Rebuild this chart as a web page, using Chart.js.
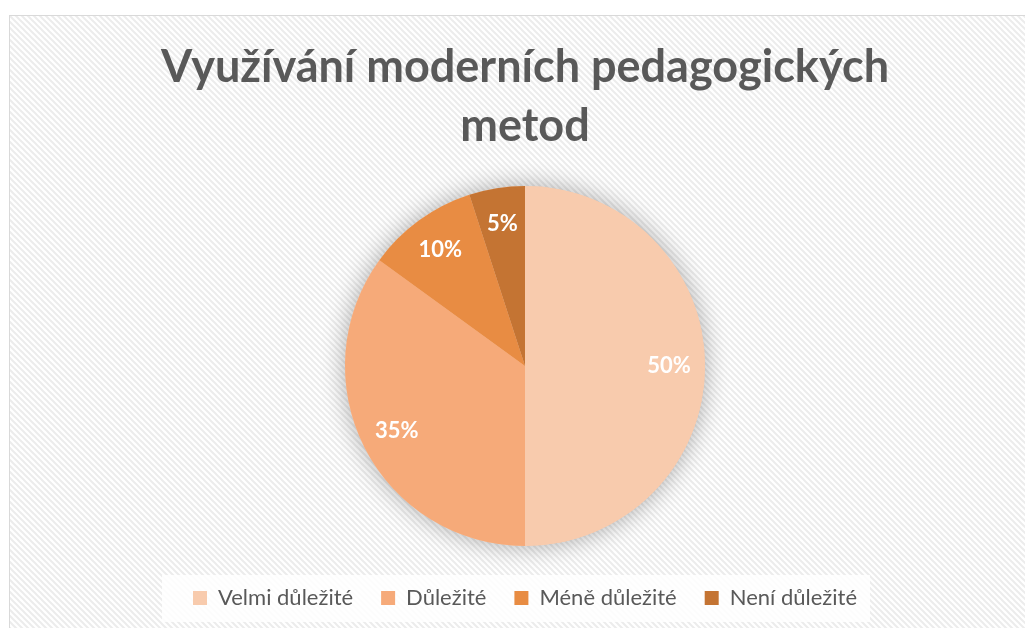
<!DOCTYPE html>
<html lang="cs">
<head>
<meta charset="utf-8">
<title>Využívání moderních pedagogických metod</title>
<script src="https://cdn.jsdelivr.net/npm/chart.js@4.4.1/dist/chart.umd.min.js"></script>
<style>
  html, body { margin: 0; padding: 0; background: #ffffff; }
  #wrap { width: 1025px; height: 628px; }
</style>
</head>
<body>
<div id="wrap"><canvas id="pieChart" width="1025" height="628"></canvas></div>
<script>
// Data
var categories = ['Velmi důležité', 'Důležité', 'Méně důležité', 'Není důležité'];
var shares = [50, 35, 10, 5];
var sliceColors = ['#F8CBAD', '#F6AA79', '#E88C43', '#C47433'];
var titleLines = ['Využívání moderních pedagogických', 'metod'];

// Hatched background, frame and the light legend panel
var backgroundPlugin = {
    id: 'hatchBackground',
    beforeDraw: function (chart) {
        var ctx = chart.ctx;
        var tile = document.createElement('canvas');
        tile.width = 6;
        tile.height = 6;
        var t = tile.getContext('2d');
        t.fillStyle = '#ffffff';
        t.fillRect(0, 0, 6, 6);
        t.strokeStyle = '#ececec';
        t.lineWidth = 2;
        t.beginPath();
        t.moveTo(-1, -1); t.lineTo(7, 7);
        t.moveTo(-1, 5); t.lineTo(1, 7);
        t.moveTo(5, -1); t.lineTo(7, 1);
        t.stroke();

        ctx.save();
        ctx.fillStyle = '#ffffff';
        ctx.fillRect(0, 0, chart.width, chart.height);
        ctx.fillStyle = ctx.createPattern(tile, 'repeat');
        ctx.fillRect(10, 16, chart.width - 10, chart.height - 16);
        ctx.strokeStyle = '#d9d9d9';
        ctx.lineWidth = 1;
        ctx.strokeRect(9.5, 15.5, chart.width, chart.height);

        // panel behind the legend row
        var boxes = chart.legend.legendHitBoxes;
        if (boxes && boxes.length) {
            var first = boxes[0], last = boxes[boxes.length - 1];
            var x0 = first.left - 31;
            var x1 = last.left + last.width + 13;
            var y0 = first.top - 12;
            var y1 = first.top + first.height + 13;
            ctx.fillStyle = 'rgba(255,255,255,0.85)';
            ctx.fillRect(x0, y0, x1 - x0, y1 - y0);
        }
        ctx.restore();
    }
};

// Soft shadow under the whole pie
var shadowPlugin = {
    id: 'pieShadow',
    beforeDatasetsDraw: function (chart) {
        var arc = chart.getDatasetMeta(0).data[0];
        if (!arc) return;
        var ctx = chart.ctx;
        ctx.save();
        ctx.shadowColor = 'rgba(0,0,0,0.32)';
        ctx.shadowBlur = 24;
        ctx.beginPath();
        ctx.arc(arc.x, arc.y, arc.outerRadius, 0, Math.PI * 2);
        ctx.fillStyle = sliceColors[0];
        ctx.fill();
        ctx.restore();
    }
};

// Percent labels inside the slices
var labelPlugin = {
    id: 'sliceLabels',
    afterDatasetsDraw: function (chart) {
        var ctx = chart.ctx;
        var meta = chart.getDatasetMeta(0);
        ctx.save();
        ctx.fillStyle = '#ffffff';
        ctx.font = 'bold 22px Lato';
        ctx.textAlign = 'center';
        ctx.textBaseline = 'middle';
        meta.data.forEach(function (arc, i) {
            var p = arc.getProps(['x', 'y', 'startAngle', 'endAngle', 'outerRadius'], true);
            var mid = (p.startAngle + p.endAngle) / 2;
            var r = p.outerRadius * 0.8;
            ctx.fillText(shares[i] + '%', p.x + Math.cos(mid) * r, p.y + Math.sin(mid) * r);
        });
        ctx.restore();
    }
};

var ctx = document.getElementById('pieChart').getContext('2d');

var pieChart = new Chart(ctx, {
    type: 'pie',
    data: {
        labels: categories,
        datasets: [{
            data: shares,
            backgroundColor: sliceColors,
            borderWidth: 0,
            radius: 180
        }]
    },
    options: {
        responsive: false,
        animation: false,
        layout: {
            padding: { left: 35, right: 10, top: 0, bottom: 9 }
        },
        plugins: {
            title: {
                display: true,
                text: titleLines,
                color: '#595959',
                font: { family: 'Lato', size: 45, weight: 'bold', lineHeight: 1.31 },
                padding: { top: 38, bottom: 17 }
            },
            legend: {
                position: 'bottom',
                labels: {
                    color: '#595959',
                    boxWidth: 14,
                    boxHeight: 14,
                    padding: 28,
                    font: { family: 'Lato', size: 22 }
                }
            },
            tooltip: { enabled: false }
        }
    },
    plugins: [backgroundPlugin, shadowPlugin, labelPlugin]
});
</script>
</body>
</html>
